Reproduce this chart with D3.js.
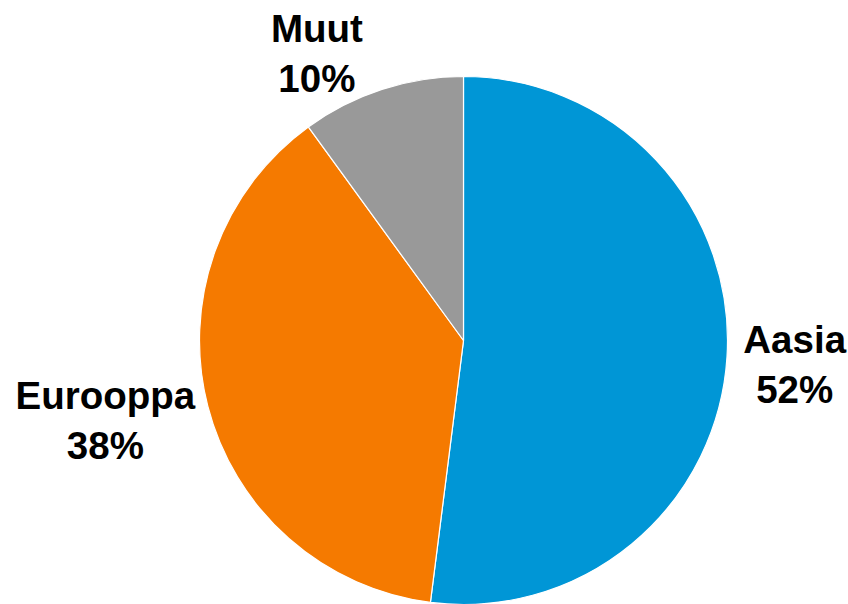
<!DOCTYPE html>
<html><head><meta charset="utf-8">
<script src="https://cdn.jsdelivr.net/npm/d3@7"></script>
<style>html,body{margin:0;padding:0;background:#fff;}svg{display:block;}</style>
</head><body>
<svg id="c" width="848" height="604"></svg>
<script>
const categories = ["Aasia", "Eurooppa", "Muut"];
const values = [52, 38, 10];
const colors = ["#0096D6", "#F57A00", "#999999"];

const W = 848, H = 604;
const cx = 463.5, cy = 340.5, R = 264;
const svg = d3.select("#c");
const g = svg.append("g").attr("transform", `translate(${cx},${cy})`);

const pie = d3.pie().sort(null).value(d => d.v);
const data = pie(categories.map((c, i) => ({c, v: values[i], col: colors[i]})));
const arc = d3.arc().innerRadius(0).outerRadius(R);

g.selectAll("path").data(data).enter().append("path")
  .attr("d", arc).attr("fill", d => d.data.col)
  .attr("stroke", "#fff").attr("stroke-width", 1.2).attr("stroke-linejoin", "round");

// label layout: polar position around pie center (angle in degrees, radius)
const labelLayout = [
  {ang: 94, r: 332},
  {ang: 257.4, r: 367},
  {ang: 333, r: 323}
];
const fs = 38.5, lh = 50;
data.forEach((d, i) => {
  const L = labelLayout[i];
  const a = L.ang * Math.PI / 180;
  const x = L.r * Math.sin(a), y = -L.r * Math.cos(a);
  const t = g.append("text").attr("text-anchor", "middle")
    .attr("font-family", "'Liberation Sans', Arial, sans-serif")
    .attr("font-weight", "bold").attr("font-size", fs).attr("fill", "#000");
  t.append("tspan").attr("x", x).attr("y", y - lh/2 + fs*0.36).text(d.data.c);
  t.append("tspan").attr("x", x).attr("y", y + lh/2 + fs*0.36).text(d3.format(".0f")(d.data.v) + "%");
});
</script>
</body></html>
